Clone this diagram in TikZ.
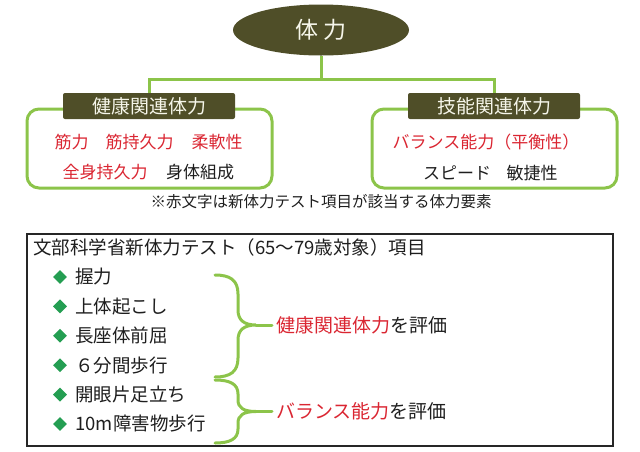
\documentclass[tikz,border=0pt]{standalone}
\usepackage{fontspec}
\setmainfont{Noto Sans CJK JP}
\usetikzlibrary{shapes.geometric, positioning}

\definecolor{darkolive}{RGB}{79,78,40}
\definecolor{cream}{RGB}{246,246,234}
\definecolor{leafgreen}{RGB}{140,196,74}
\definecolor{testred}{RGB}{218,38,50}
\definecolor{gemgreen}{RGB}{36,158,82}
\definecolor{ink}{RGB}{30,30,30}

\begin{document}
\begin{tikzpicture}[
    x=1pt, y=-1pt,
    top/.style={ellipse, fill=darkolive, minimum width=176pt, minimum height=51pt, text=cream, font=\fontsize{23}{27}\selectfont},
    header/.style={rectangle, rounded corners=2pt, fill=darkolive, minimum width=172pt, minimum height=26pt, inner sep=0pt, text=cream, font=\fontsize{19}{22}\selectfont},
    group/.style={rectangle, draw=leafgreen, line width=3pt, rounded corners=12pt, minimum width=245pt, minimum height=79pt},
    link/.style={draw=leafgreen, line width=3pt},
    element/.style={inner sep=0pt, text=ink, font=\fontsize{17}{20}\selectfont},
    redelement/.style={element, text=testred},
    gem/.style={diamond, aspect=1, fill=gemgreen, minimum size=14pt, inner sep=0pt},
    testitem/.style={inner sep=0pt, text=ink, font=\fontsize{18.5}{22}\selectfont},
    evaltext/.style={anchor=west, inner sep=0pt, text=ink, font=\fontsize{19}{22}\selectfont},
    brace/.style={draw=leafgreen, line width=3pt, line cap=round}
]
    \useasboundingbox (0,0) rectangle (640,451);

    % Top node and the two groups
    \node[top] (top) at (321,30) {体 力};
    \node[group] (hbox) at (149.5,148.5) {};
    \node[group] (sbox) at (494.5,148.5) {};
    \node[header] (hhead) at (149,106) {健康関連体力};
    \node[header] (shead) at (494,106) {技能関連体力};

    % Tree lines
    \coordinate (hub) at (321,79);
    \draw[link] (top) -- (hub);
    \draw[link] (hhead.north) |- (hub) -| (shead.north);

    % Elements of each group
    \node[redelement] (kin)  at (71.5,142) {筋力};
    \node[redelement] (kinj) at (139.5,142) {筋持久力};
    \node[redelement] (jud)  at (217,142) {柔軟性};
    \node[redelement] (zen)  at (105,172) {全身持久力};
    \node[element]    (soa)  at (200,172) {身体組成};
    \node[redelement] (bal)  at (486,142) {バランス能力（平衡性）};
    \node[element]    (spd)  at (457,173) {スピード};
    \node[element]    (bin)  at (532,173) {敏捷性};

    \node[element, font=\fontsize{15.5}{18}\selectfont] (note) at (321,202) {※赤文字は新体力テスト項目が該当する体力要素};

    % Test box
    \node[rectangle, draw=black!85, line width=1.2pt, minimum width=586pt, minimum height=212pt] (testbox) at (320,340) {};
    \node[testitem, anchor=west] (title) at (33,247) {文部科学省新体力テスト（65～79歳対象）項目};

    \node[gem] (d1) at (60,277) {};
    \node[gem, below=15pt of d1] (d2) {};
    \node[gem, below=15pt of d2] (d3) {};
    \node[gem, below=15pt of d3] (d4) {};
    \node[gem, below=15pt of d4] (d5) {};
    \node[gem, below=15pt of d5] (d6) {};
    \node[testitem, right=8pt of d1] (t1) {握力};
    \node[testitem, right=8pt of d2] (t2) {上体起こし};
    \node[testitem, right=8pt of d3] (t3) {長座体前屈};
    \node[testitem, right=8pt of d4] (t4) {６分間歩行};
    \node[testitem, right=8pt of d5] (t5) {開眼片足立ち};
    \node[testitem, right=8pt of d6] (t6) {10m障害物歩行};

    % Braces and what they evaluate
    \node[evaltext] (evalh) at (276,325) {\textcolor{testred}{健康関連体力}を評価};
    \node[evaltext] (evalb) at (276,411.5) {\textcolor{testred}{バランス能力}を評価};

    \draw[brace] (215,275) .. controls (230,275) and (238,280) .. (238,294) -- (238,310)
        .. controls (238,320) and (244,325) .. (256,325)
        .. controls (244,325) and (238,330) .. (238,340) -- (238,358)
        .. controls (238,372) and (230,377) .. (215,377);
    \draw[brace] (256,325) -- ([xshift=-4pt]evalh.west);

    \draw[brace] (215,380) .. controls (230,380) and (238,384) .. (238,394) -- (238,400)
        .. controls (238,408) and (244,411.5) .. (256,411.5)
        .. controls (244,411.5) and (238,415) .. (238,423) -- (238,429)
        .. controls (238,439) and (230,443) .. (215,443);
    \draw[brace] (256,411.5) -- ([xshift=-4pt]evalb.west);
\end{tikzpicture}
\end{document}
